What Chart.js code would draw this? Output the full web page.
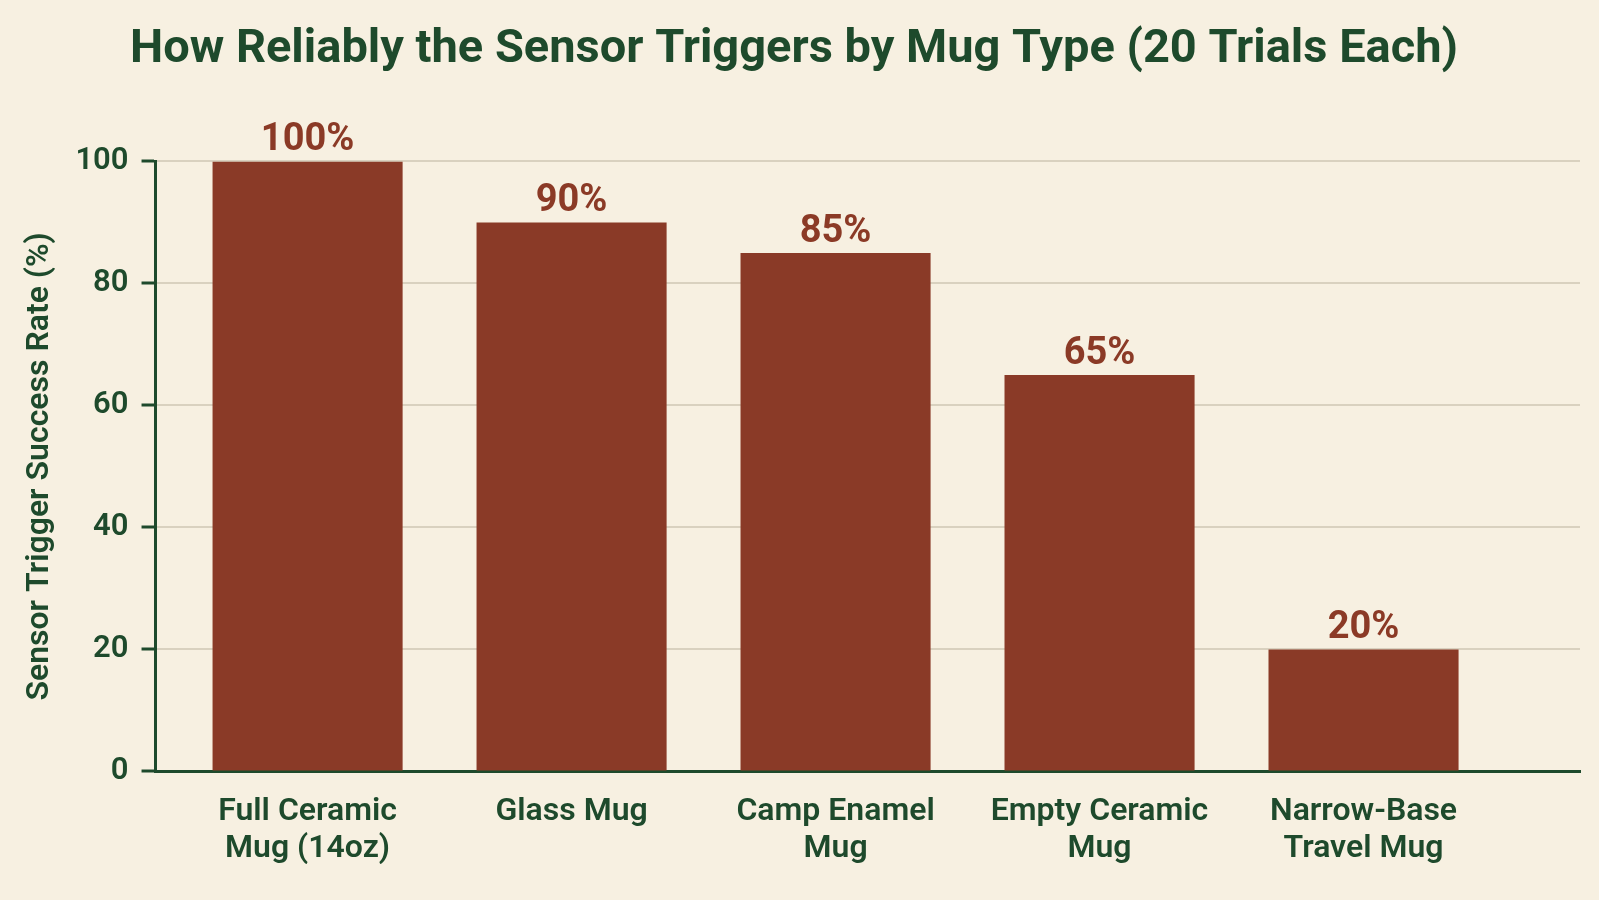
<!DOCTYPE html>
<html>
<head>
<meta charset="utf-8">
<title>Sensor trigger rate by mug type</title>
<script src="https://cdn.jsdelivr.net/npm/chart.js@4.4.1/dist/chart.umd.min.js"></script>
<style>
  html, body { margin: 0; padding: 0; background: #f7f0e1; }
  #wrap { width: 1599px; height: 900px; }
</style>
</head>
<body>
<div id="wrap"><canvas id="mugChart" width="1599" height="900"></canvas></div>
<script>
// Data
var mugTypes     = ['Full Ceramic|Mug (14oz)', 'Glass Mug', 'Camp Enamel|Mug', 'Empty Ceramic|Mug', 'Narrow-Base|Travel Mug'];
var successRates = [100, 90, 85, 65, 20];
var yTicks       = [0, 20, 40, 60, 80, 100];

var green = '#1e4a2c';
var rust  = '#8a3a27';

// paint the cream background behind everything
var bgPlugin = {
  id: 'bg',
  beforeDraw: function (chart) {
    var ctx = chart.ctx;
    ctx.save();
    ctx.fillStyle = '#f7f0e1';
    ctx.fillRect(0, 0, chart.width, chart.height);
    ctx.restore();
  }
};

// percentage labels above each bar
var valueLabels = {
  id: 'valueLabels',
  afterDatasetsDraw: function (chart) {
    var ctx  = chart.ctx;
    var meta = chart.getDatasetMeta(0);
    ctx.save();
    ctx.font = 'bold 38px Roboto';
    ctx.fillStyle = '#8b3a26';
    ctx.textAlign = 'center';
    ctx.textBaseline = 'alphabetic';
    meta.data.forEach(function (bar, i) {
      ctx.fillText(successRates[i] + '%', bar.x, bar.y - 11);
    });
    ctx.restore();
  }
};

var ctx = document.getElementById('mugChart').getContext('2d');
new Chart(ctx, {
  type: 'bar',
  data: {
    datasets: [{
      data: successRates.map(function (v, i) { return { x: i, y: v }; }),
      backgroundColor: rust,
      borderWidth: 0,
      barPercentage: 0.72,
      categoryPercentage: 1
    }]
  },
  options: {
    responsive: false,
    animation: false,
    devicePixelRatio: 1,
    layout: { padding: { left: 8, right: 19, top: 0, bottom: 19 } },
    plugins: {
      legend: { display: false },
      tooltip: { enabled: false },
      title: {
        display: true,
        text: 'How Reliably the Sensor Triggers by Mug Type (20 Trials Each)',
        color: green,
        font: { family: 'Roboto', size: 47, weight: 'bold' },
        padding: { top: 22, bottom: 83 }
      }
    },
    scales: {
      x: {
        type: 'linear',
        offset: false,
        min: -0.576,
        max: 4.82,
        grid: { display: false },
        border: { display: true, color: green, width: 3 },
        afterBuildTicks: function (axis) {
          axis.ticks = mugTypes.map(function (m, i) { return { value: i }; });
        },
        ticks: {
          autoSkip: false,
          maxRotation: 0,
          padding: 14,
          color: green,
          font: { family: 'Roboto', size: 32, weight: '600', lineHeight: 1.15 },
          callback: function (value) {
            return mugTypes[value].split('|');
          }
        }
      },
      y: {
        min: 0,
        max: 100,
        afterBuildTicks: function (axis) {
          axis.ticks = yTicks.map(function (v) { return { value: v }; });
        },
        grid: {
          color: '#d9d1bf',
          lineWidth: 2,
          tickColor: green,
          tickWidth: 3,
          tickLength: 14
        },
        border: { display: true, color: green, width: 3 },
        ticks: {
          padding: 13,
          color: green,
          font: { family: 'Roboto', size: 31, weight: '600' }
        },
        title: {
          display: true,
          text: 'Sensor Trigger Success Rate (%)',
          color: green,
          font: { family: 'Roboto', size: 32, weight: '600' },
          padding: { top: 13, bottom: 3 }
        }
      }
    }
  },
  plugins: [bgPlugin, valueLabels]
});
</script>
</body>
</html>
